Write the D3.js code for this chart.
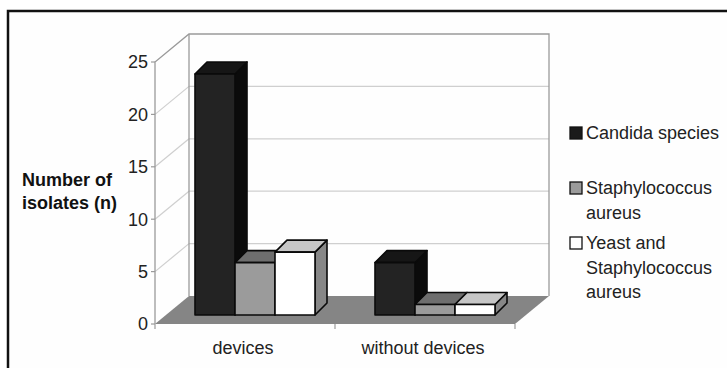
<!DOCTYPE html>
<html>
<head>
<meta charset="utf-8">
<script src="https://cdn.jsdelivr.net/npm/d3@7"></script>
<style>
  html, body { margin: 0; padding: 0; background: #ffffff; }
  svg { display: block; font-family: "Liberation Sans", Arial, sans-serif; }
</style>
</head>
<body>
<svg id="chart" width="727" height="368"></svg>
<script>
// Isolates by category and organism group
const categories = ["devices", "without devices"];
const seriesNames = ["Candida species", "Staphylococcus aureus", "Yeast and Staphylococcus aureus"];
const candidaValues = [23, 5];
const staphValues = [5, 1];
const yeastStaphValues = [6, 1];
const yTicks = [0, 5, 10, 15, 20, 25];
const legendLines = [["Candida species"], ["Staphylococcus", "aureus"], ["Yeast and", "Staphylococcus", "aureus"]];

const seriesValues = [candidaValues, staphValues, yeastStaphValues];
const faceColors = [
  { front: "#232323", top: "#161616", side: "#0b0b0b", key: "#1a1a1a" },
  { front: "#9b9b9b", top: "#6e6e6e", side: "#7a7a7a", key: "#9b9b9b" },
  { front: "#ffffff", top: "#c6c6c6", side: "#878787", key: "#ffffff" }
];

const svg = d3.select("#chart");

// outer frame
svg.append("rect")
  .attr("x", 8).attr("y", 11).attr("width", 760).attr("height", 380)
  .attr("fill", "#fefefe").attr("stroke", "#111").attr("stroke-width", 2.5);

// 3-D geometry: front plane, depth offset to the back wall, bar plane
const x0 = 155, x1 = 515;
const depth = { dx: 34, dy: -28 };
const barPlane = { dx: 10, dy: -9 };
const barDepth = { dx: 12, dy: -12 };

const x = d3.scaleBand().domain(categories).range([x0, x1]).paddingInner(0).paddingOuter(0);
const xs = d3.scaleBand().domain(seriesNames).range([0, x.bandwidth()]).paddingInner(0).paddingOuter(0.75);
const y = d3.scaleLinear().domain([0, 25]).range([324, 62]);

const wall = svg.append("g");
const wallStroke = "#9a9a9a";
const gridStroke = "#cfcfcf";

// back wall gridlines and side-wall diagonals
yTicks.filter(t => t > 0 && t < 25).forEach(t => {
  wall.append("line")
    .attr("x1", x0 + depth.dx).attr("x2", x1 + depth.dx)
    .attr("y1", y(t) + depth.dy).attr("y2", y(t) + depth.dy)
    .attr("stroke", gridStroke).attr("stroke-width", 1.2);
  wall.append("line")
    .attr("x1", x0).attr("x2", x0 + depth.dx)
    .attr("y1", y(t)).attr("y2", y(t) + depth.dy)
    .attr("stroke", gridStroke).attr("stroke-width", 1.2);
});

// wall outlines
const bx0 = x0 + depth.dx, bx1 = x1 + depth.dx;
const byTop = y(25) + depth.dy, byBot = y(0) + depth.dy;
wall.append("path")
  .attr("d", `M${x0},${y(0)} L${x0},${y(25)} L${bx0},${byTop} L${bx1},${byTop} L${bx1},${byBot}`)
  .attr("fill", "none").attr("stroke", wallStroke).attr("stroke-width", 1.3);
wall.append("line")
  .attr("x1", bx0).attr("x2", bx0).attr("y1", byTop).attr("y2", byBot)
  .attr("stroke", wallStroke).attr("stroke-width", 1.3);

// floor
svg.append("path")
  .attr("d", `M${x0},${y(0)} L${x1},${y(0)} L${bx1},${byBot} L${bx0},${byBot} Z`)
  .attr("fill", "#858585");

// y axis ticks and labels
const yAxis = svg.append("g");
yTicks.forEach(t => {
  yAxis.append("line")
    .attr("x1", x0 - 4).attr("x2", x0).attr("y1", y(t)).attr("y2", y(t))
    .attr("stroke", wallStroke).attr("stroke-width", 1.2);
  yAxis.append("text")
    .attr("x", x0 - 7).attr("y", y(t)).attr("dy", "0.36em")
    .attr("text-anchor", "end").attr("font-size", 18).attr("fill", "#222")
    .text(t);
});

// category ticks and labels
[x0, x1, ...categories.slice(1).map(c => x(c))].forEach(px => {
  svg.append("line")
    .attr("x1", px).attr("x2", px).attr("y1", y(0)).attr("y2", y(0) + 5)
    .attr("stroke", wallStroke).attr("stroke-width", 1.2);
});
categories.forEach(c => {
  svg.append("text")
    .attr("x", x(c) + x.bandwidth() / 2 - 2).attr("y", 354)
    .attr("text-anchor", "middle").attr("font-size", 18).attr("fill", "#222")
    .text(c);
});

// bars, drawn left to right so neighbours overlap correctly
const bars = svg.append("g").attr("stroke", "#0a0a0a").attr("stroke-width", 1.6).attr("stroke-linejoin", "round");
categories.forEach((c, ci) => {
  seriesNames.forEach((s, si) => {
    const v = seriesValues[si][ci];
    const left = x(c) + xs(s) + barPlane.dx;
    const right = left + xs.bandwidth();
    const top = y(v) + barPlane.dy;
    const bottom = y(0) + barPlane.dy;
    const col = faceColors[si];
    // side face
    bars.append("path")
      .attr("d", `M${right},${bottom} L${right},${top} L${right + barDepth.dx},${top + barDepth.dy} L${right + barDepth.dx},${bottom + barDepth.dy} Z`)
      .attr("fill", col.side);
    // top face
    bars.append("path")
      .attr("d", `M${left},${top} L${left + barDepth.dx},${top + barDepth.dy} L${right + barDepth.dx},${top + barDepth.dy} L${right},${top} Z`)
      .attr("fill", col.top);
    // front face
    bars.append("rect")
      .attr("x", left).attr("y", top).attr("width", xs.bandwidth()).attr("height", bottom - top)
      .attr("fill", col.front);
  });
});

// y axis title
const yTitle = svg.append("text").attr("font-size", 18).attr("font-weight", "bold").attr("fill", "#111");
yTitle.append("tspan").attr("x", 22).attr("y", 186).text("Number of");
yTitle.append("tspan").attr("x", 22).attr("y", 209).text("isolates (n)");

// legend
const legendTop = [139, 194, 249];
const legend = svg.append("g");
legendLines.forEach((lines, i) => {
  legend.append("rect")
    .attr("x", 570).attr("y", legendTop[i] - 12).attr("width", 12).attr("height", 12)
    .attr("fill", faceColors[i].key).attr("stroke", "#111").attr("stroke-width", 1.3);
  const t = legend.append("text").attr("font-size", 18).attr("fill", "#222");
  lines.forEach((ln, li) => {
    t.append("tspan").attr("x", 586).attr("y", legendTop[i] + li * 24.5).text(ln);
  });
});
</script>
</body>
</html>
